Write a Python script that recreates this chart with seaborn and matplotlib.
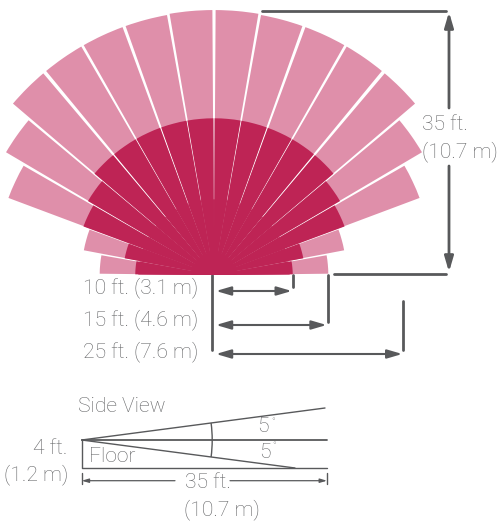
import numpy as np
import pandas as pd
import seaborn as sns
import matplotlib
matplotlib.use('Agg')
import matplotlib.pyplot as plt
from matplotlib.patches import Arc

# Beam sweep, degrees either side of straight ahead
beam_angles = [-84.7, -74.6, -64.8, -54.8, -44.9, -34.8, -24.9, -14.9, -5.0,
               5.0, 14.9, 24.9, 34.8, 44.9, 54.8, 64.8, 74.6, 84.7]
beam_width = 9.3
dark_width = 9.6
core_width = 9.9

# Reach of each beam in feet
outer_ft = [15.1, 17.5, 29.0, 31.9, 34.9, 34.9, 34.9, 34.9, 35.0,
            35.0, 34.9, 34.9, 34.9, 34.9, 31.9, 29.0, 17.5, 15.1]
inner_ft = [10.4, 12.0, 18.4, 19.3, 20.7, 20.7, 20.7, 20.7, 20.7,
            20.7, 20.7, 20.7, 20.7, 20.7, 19.3, 18.4, 12.0, 10.4]
core_ft = 10.0
hub_ft = 3.0

span_ft = [10.4, 15.0, 25.0]
span_labels = ['10 ft. (3.1 m)', '15 ft. (4.6 m)', '25 ft. (7.6 m)']

LIGHT = '#DF8FAA'
DARK = '#BE2455'
LINE = '#58595B'
TEXT = '#636466'
PX_PER_FT = 7.57
W, H = 499, 523
CX, CY = 214, 275


def draw_lines(ax, segments, lw):
    rows = []
    for i, seg in enumerate(segments):
        for x, y in seg:
            rows.append({'seg': i, 'x': x, 'y': y})
    df = pd.DataFrame(rows)
    sns.lineplot(data=df, x='x', y='y', units='seg', estimator=None, sort=False,
                 color=LINE, linewidth=lw, ax=ax, legend=False,
                 solid_capstyle='round')


def draw_arrow(ax, start, end, style, scale=1.0, lw=1.5):
    ax.annotate('', xy=end, xytext=start,
                arrowprops=dict(arrowstyle=f'{style},head_length=0.75,head_width=0.22',
                                mutation_scale=12 * scale, color=LINE, lw=lw,
                                shrinkA=0, shrinkB=0))


def label(ax, x, y, s, ha='left', size=15.2):
    ax.text(x, y, s, ha=ha, va='center', color=TEXT, fontsize=size,
            family='Roboto', fontweight='light')


sns.set_theme(style='white')
fig = plt.figure(figsize=(W / 100, H / 100), dpi=100)

# Main axes runs in image pixels for the callouts
ax = fig.add_axes([0, 0, 1, 1])
ax.set_xlim(0, W)
ax.set_ylim(H, 0)
ax.axis('off')

# Polar axes for the beams, centred on the sensor
rmax = 36.0
r_px = rmax * PX_PER_FT
pol = fig.add_axes([(CX - r_px) / W, 1 - (CY + r_px) / H, 2 * r_px / W, 2 * r_px / H],
                   projection='polar')
pol.set_theta_zero_location('N')
pol.set_theta_direction(-1)
pol.set_ylim(0, rmax)
pol.axis('off')
pol.patch.set_alpha(0)
theta = np.radians(beam_angles)
pol.bar(theta, outer_ft, width=np.radians(beam_width), color=LIGHT, linewidth=0)
pol.bar(theta, inner_ft, width=np.radians(dark_width), color=DARK, linewidth=0)
# gaps close up towards the sensor
pol.bar(theta, core_ft, width=np.radians(core_width), color=DARK, linewidth=0)
pol.bar(0, hub_ft, width=np.pi, color=DARK, linewidth=0)

# Range callouts under the fan
tick_x = [CX + ft * PX_PER_FT for ft in span_ft]
draw_lines(ax, [[(212, 275), (212, 350)],
                [(tick_x[0], 275), (tick_x[0], 287)],
                [(tick_x[1], 275), (tick_x[1], 322)],
                [(tick_x[2], 301), (tick_x[2], 350)],
                [(262, 10.7), (446, 10.7)],
                [(334, 274), (446, 274)]], 2.0)
for x, y, y_text, s in zip(tick_x, [291, 325, 354], [288, 320, 352], span_labels):
    draw_arrow(ax, (216, y), (x - 1, y), '<|-|>')
    label(ax, 198, y_text, s, ha='right')

# 35 ft. vertical callout
draw_arrow(ax, (449, 108), (449, 12), '-|>', lw=2.0)
draw_arrow(ax, (449, 166), (449, 272), '-|>', lw=2.0)
label(ax, 422, 125, '35 ft.')
label(ax, 422, 152, '(10.7 m)')

# Side view
ox, oy = 81.7, 440
draw_lines(ax, [[(ox, oy), (325, 408)],
                [(ox, oy), (295, 468)],
                [(ox, oy), (ox, 468), (327, 468)],
                [(ox, 473), (ox, 484)],
                [(327, 473), (327, 484)]], 1.0)
draw_lines(ax, [[(ox, oy), (327, oy)]], 1.3)
ax.add_patch(Arc((ox, oy), 261, 261, theta1=-7.5, theta2=7.5, color=LINE, lw=1.0))
draw_arrow(ax, (175, 480.7), (ox, 480.7), '-|>', scale=0.45, lw=0.9)
draw_arrow(ax, (230, 480.7), (327, 480.7), '-|>', scale=0.45, lw=0.9)
label(ax, 78, 407, 'Side View')
label(ax, 67, 448, '4 ft.', ha='right')
label(ax, 68, 475, '(1.2 m)', ha='right')
label(ax, 89, 457, 'Floor')
label(ax, 263, 427, '5', ha='center')
label(ax, 265, 452, '5', ha='center')
label(ax, 273, 422, '°', ha='center', size=7)
label(ax, 274, 446, '°', ha='center', size=7)
label(ax, 208, 482, '35 ft.', ha='center')
label(ax, 222, 510, '(10.7 m)', ha='center')

fig.savefig('out.png', dpi=100)
